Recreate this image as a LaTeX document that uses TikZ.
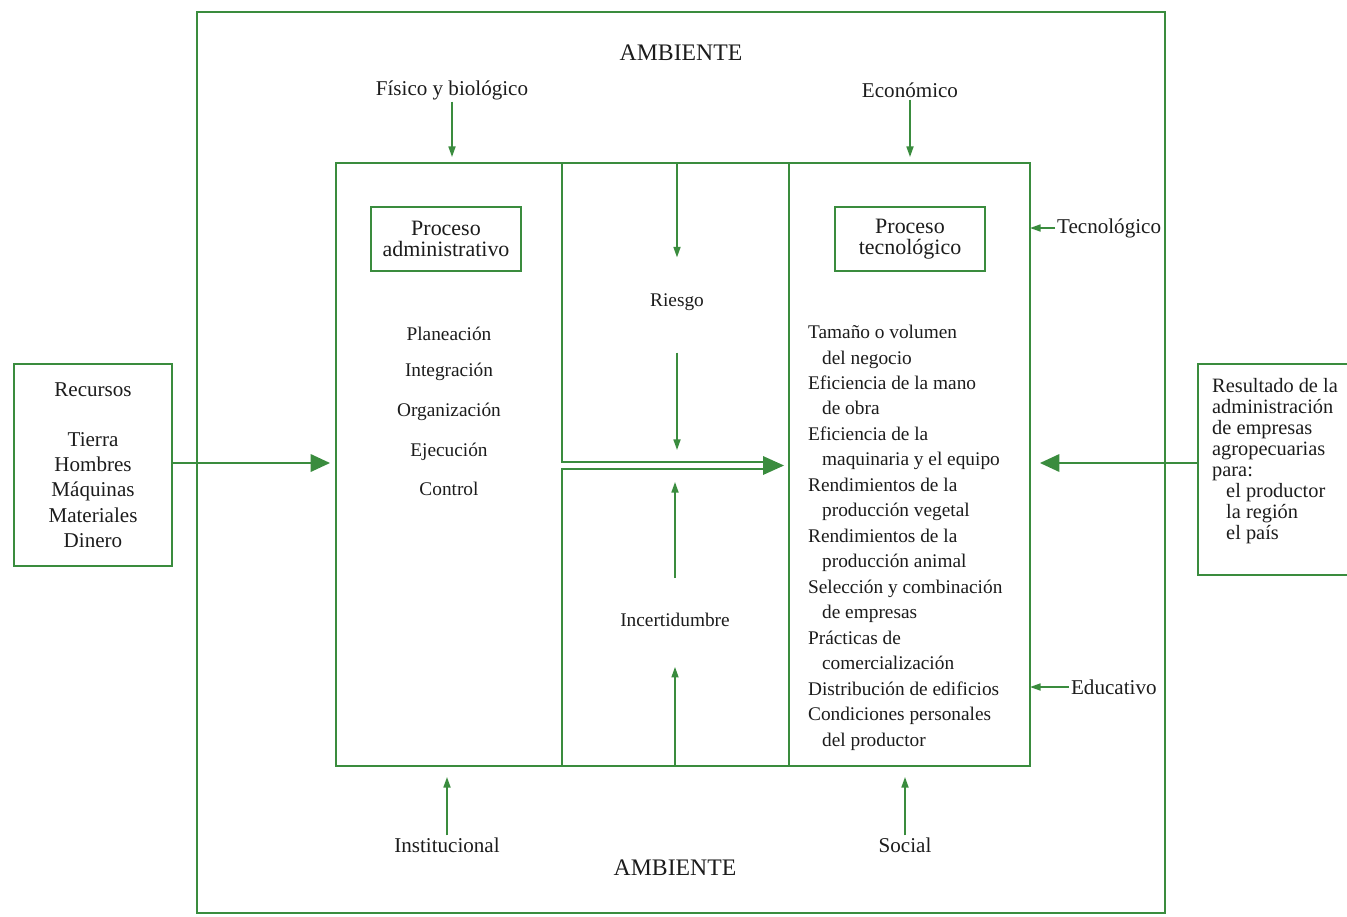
\documentclass[tikz,border=0pt]{standalone}
\usepackage{fontspec}
\setmainfont{Liberation Serif}
\usetikzlibrary{arrows.meta,positioning,calc}
\definecolor{lgreen}{RGB}{58,140,62}
\definecolor{ink}{RGB}{28,28,28}
\tikzset{
  frame/.style={draw=lgreen, line width=1pt},
  lbl/.style={font=\fontsize{12}{14}\selectfont, text=ink, inner sep=1pt},
  itm/.style={font=\fontsize{11}{14.5}\selectfont, text=ink, inner sep=1pt},
  procbox/.style={draw=lgreen, line width=0.7pt, text=ink, align=center,
    font=\fontsize{12.5}{12}\selectfont, minimum width=3cm, minimum height=1.28cm},
  sidebox/.style={draw=lgreen, line width=1pt, text=ink, inner sep=0pt},
  arrs/.style={lgreen, line width=0.9pt, -{Triangle[length=6pt,width=4pt]}},
  arrb/.style={lgreen, line width=0.9pt, -{Triangle[length=11pt,width=10pt]}}
}

\begin{document}
\begin{tikzpicture}[x=0.02cm,y=-0.02cm]
  \useasboundingbox (0,0) rectangle (1347,917);
  % ambiente
  \draw[frame] (197,12) rectangle (1165,913);
  \node[lbl, font=\fontsize{13.5}{15}\selectfont] (amb1) at (681,53) {AMBIENTE};
  \node[lbl, font=\fontsize{13.5}{15}\selectfont] (amb2) at (675,868) {AMBIENTE};
  % empresa
  \coordinate (sysNW) at (336,163);
  \coordinate (sysSE) at (1030,766);
  \draw[frame] (sysNW) rectangle (sysSE);
  \draw[frame] (562,163) -- (562,462) -- (768,462);
  \draw[frame] (768,469) -- (562,469) -- (562,766);
  \draw[frame] (789,163) -- (789,766);
  \fill[lgreen] (784,465.5) -- (763,456) -- (763,475) -- cycle;

  % factores externos
  \node[lbl] (fis) at (452,90) {Físico y biológico};
  \node[lbl] (eco) at (910,90) {Económico};
  \node[lbl] (inst) at (447,845) {Institucional};
  \node[lbl] (soc) at (905,845) {Social};
  \node[lbl, anchor=west] (tec) at (1055,228) {Tecnológico};
  \node[lbl, anchor=west] (edu) at (1069,687) {Educativo};
  \draw[arrs] (fis.south) -- ($(fis |- sysNW)+(0,-6)$);
  \draw[arrs] (eco.south) -- ($(eco |- sysNW)+(0,-6)$);
  \draw[arrs] (inst.north) -- ($(inst |- sysSE)+(0,11)$);
  \draw[arrs] (soc.north) -- ($(soc |- sysSE)+(0,11)$);
  \draw[arrs] (tec.west) -- (tec.west -| sysSE);
  \draw[arrs] (edu.west) -- (edu.west -| sysSE);

  % proceso administrativo
  \node[procbox] (padm) at (446,239) {Proceso\\administrativo};
  \foreach \t/\y [count=\i] in {Planeación/334, Integración/372,
      Organización/412, Ejecución/452, Control/489}
    \node[itm] (adm\i) at (449,\y) {\t};

  % riesgo e incertidumbre
  \node[itm] (riesgo) at (677,302) {Riesgo};
  \node[itm] (incert) at (675,620) {Incertidumbre};
  \draw[arrs] (riesgo |- sysNW) -- ($(riesgo.north)+(0,-34)$);
  \draw[arrs] ($(riesgo.south)+(0,40)$) -- (677,450);
  \draw[arrs] ($(incert.north)+(0,-33)$) -- (675,482);
  \draw[arrs] (incert |- sysSE) -- ($(incert.south)+(0,38)$);

  % proceso tecnologico
  \node[procbox] (ptec) at (910,239) {Proceso\\tecnológico};
  \node[itm, align=left, anchor=north west] (fact) at (806,323)
    {Tamaño o volumen\\\hspace*{8pt}del negocio\\
     Eficiencia de la mano\\\hspace*{8pt}de obra\\
     Eficiencia de la\\\hspace*{8pt}maquinaria y el equipo\\
     Rendimientos de la\\\hspace*{8pt}producción vegetal\\
     Rendimientos de la\\\hspace*{8pt}producción animal\\
     Selección y combinación\\\hspace*{8pt}de empresas\\
     Prácticas de\\\hspace*{8pt}comercialización\\
     Distribución de edificios\\
     Condiciones personales\\\hspace*{8pt}del productor};

  % entradas y salidas
  \node[sidebox, align=center, minimum width=3.16cm, minimum height=4.04cm,
    font=\fontsize{12}{14.3}\selectfont] (rec) at (93,465)
    {Recursos\\[14.3pt]Tierra\\Hombres\\Máquinas\\Materiales\\Dinero};
  \node[sidebox, align=left, minimum width=3.08cm, minimum height=4.22cm,
    font=\fontsize{11.6}{12}\selectfont] (res) at (1275,469.5)
    {Resultado de la\\administración\\de empresas\\agropecuarias\\para:\\
     \hspace*{8pt}el productor\\\hspace*{8pt}la región\\\hspace*{8pt}el país\\[0pt]};
  \draw[arrb] (rec.east |- 0,463) -- (330,463);
  \draw[arrb] (res.west |- 0,463) -- (1040,463);
\end{tikzpicture}
\end{document}
